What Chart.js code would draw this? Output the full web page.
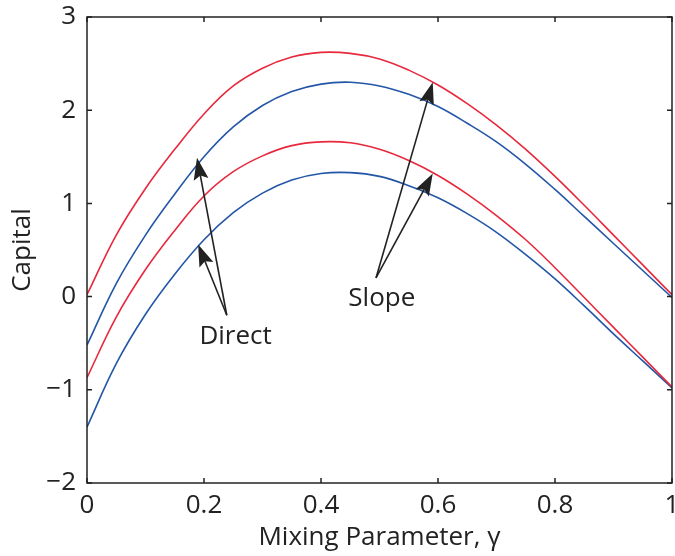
<!DOCTYPE html>
<html><head><meta charset="utf-8">
<script src="https://cdn.jsdelivr.net/npm/chart.js@4/dist/chart.umd.min.js"></script>
<style>html,body{margin:0;padding:0;background:#fff}#wrap{width:675px;height:556px;position:relative}</style>
</head><body><div id="wrap"><canvas id="c" width="675" height="556"></canvas></div>
<script>
// Mixing parameter gamma
const gamma = [0,0.05,0.10,0.15,0.20,0.25,0.30,0.35,0.40,0.45,0.50,0.55,0.60,0.65,0.70,0.75,0.80,0.85,0.90,0.95,1.00];
// Capital
const redUpper  = [0.02,0.66,1.16,1.58,1.96,2.26,2.45,2.57,2.62,2.61,2.55,2.43,2.27,2.07,1.84,1.58,1.29,0.98,0.66,0.34,0.02];
const blueUpper = [-0.52,0.14,0.66,1.10,1.50,1.82,2.05,2.20,2.28,2.30,2.26,2.17,2.04,1.86,1.66,1.42,1.15,0.86,0.57,0.28,-0.01];
const redLower  = [-0.87,-0.22,0.29,0.71,1.08,1.34,1.51,1.62,1.66,1.65,1.58,1.46,1.30,1.10,0.87,0.61,0.31,-0.01,-0.33,-0.65,-0.97];
const blueLower = [-1.40,-0.72,-0.19,0.24,0.61,0.90,1.11,1.25,1.32,1.33,1.29,1.19,1.06,0.89,0.69,0.45,0.19,-0.10,-0.40,-0.69,-0.98];
const xTicks = [0,0.2,0.4,0.6,0.8,1];
const yTicks = [-2,-1,0,1,2,3];
const xLabels = ['0','0.2','0.4','0.6','0.8','1'];
const yLabels = ['\u22122','\u22121','0','1','2','3'];

const FONT = '"Open Sans", Lato, sans-serif';
const FS = 26;
const INK = '#222222';
const RED = '#e8283c';
const BLUE = '#2356a6';

// annotation text (baseline) + arrows (data coordinates)
const annotations = [
  {label:'Direct', tx:0.254, ty:-0.51, tail:[0.239,-0.20], tips:[[0.188,1.49],[0.190,0.56]]},
  {label:'Slope',  tx:0.504, ty:-0.105, tail:[0.494,0.20], tips:[[0.591,2.30],[0.591,1.32]]}
];

const mk = (arr) => gamma.map((g,i)=>({x:g,y:arr[i]}));
const series = [
  {name:'red upper', data:redUpper, color:RED},
  {name:'blue upper', data:blueUpper, color:BLUE},
  {name:'red lower', data:redLower, color:RED},
  {name:'blue lower', data:blueLower, color:BLUE}
];

const framePlugin = {
  id:'frame',
  afterDatasetsDraw(chart){
    const {ctx, chartArea:a, scales:{x, y}} = chart;
    ctx.save();
    ctx.strokeStyle = INK; ctx.lineWidth = 1.5;
    ctx.strokeRect(a.left, a.top, a.right-a.left, a.bottom-a.top);
    const tl = 5;
    ctx.beginPath();
    xTicks.forEach(v=>{const p=x.getPixelForValue(v);
      ctx.moveTo(p,a.bottom);ctx.lineTo(p,a.bottom-tl);
      ctx.moveTo(p,a.top);ctx.lineTo(p,a.top+tl);});
    yTicks.forEach(v=>{const p=y.getPixelForValue(v);
      ctx.moveTo(a.left,p);ctx.lineTo(a.left+tl,p);
      ctx.moveTo(a.right,p);ctx.lineTo(a.right-tl,p);});
    ctx.stroke();
    // arrows
    ctx.fillStyle = INK; ctx.lineWidth = 1.6;
    annotations.forEach(an=>{
      const tx = x.getPixelForValue(an.tail[0]), ty = y.getPixelForValue(an.tail[1]);
      an.tips.forEach(tp=>{
        const hx = x.getPixelForValue(tp[0]), hy = y.getPixelForValue(tp[1]);
        const dx = hx-tx, dy = hy-ty, len = Math.hypot(dx,dy);
        const ux = dx/len, uy = dy/len, nx = -uy, ny = ux;
        const L = 22, W = 7.5;
        ctx.beginPath(); ctx.moveTo(tx,ty); ctx.lineTo(hx-ux*L*0.8, hy-uy*L*0.8); ctx.stroke();
        ctx.beginPath();
        ctx.moveTo(hx,hy);
        ctx.lineTo(hx-ux*L+nx*W, hy-uy*L+ny*W);
        ctx.lineTo(hx-ux*L*0.82, hy-uy*L*0.82);
        ctx.lineTo(hx-ux*L-nx*W, hy-uy*L-ny*W);
        ctx.closePath(); ctx.fill();
      });
      ctx.font = FS + 'px ' + FONT;
      ctx.textAlign = 'center'; ctx.textBaseline = 'alphabetic';
      ctx.fillText(an.label, x.getPixelForValue(an.tx), y.getPixelForValue(an.ty));
    });
    ctx.restore();
  }
};

new Chart(document.getElementById('c'), {
  type:'line',
  data:{datasets: series.map(s=>({label:s.name, data:mk(s.data), borderColor:s.color, borderWidth:1.6,
    pointRadius:0, fill:false, tension:0.4}))},
  options:{
    responsive:false, animation:false, devicePixelRatio:1,
    layout:{padding:{top:17,right:3,left:0,bottom:0}},
    plugins:{legend:{display:false}, tooltip:{enabled:false}},
    scales:{
      x:{type:'linear', min:0, max:1,
        afterBuildTicks: s=>{s.ticks = xTicks.map(v=>({value:v}));},
        afterFit: s=>{s.height = 73; s.paddingLeft = 0; s.paddingRight = 0;},
        grid:{display:false, drawTicks:false}, border:{display:false},
        ticks:{font:{family:FONT,size:FS}, color:INK, padding:7, maxRotation:0, autoSkip:false,
          callback:(v)=>{const i=xTicks.findIndex(t=>Math.abs(t-v)<1e-9);return i>=0?xLabels[i]:'';}},
        title:{display:true, text:'Mixing Parameter, \u03b3', font:{family:FONT,size:FS}, color:INK, padding:{top:0,bottom:3}}
      },
      y:{type:'linear', min:-2, max:3,
        afterBuildTicks: s=>{s.ticks = yTicks.map(v=>({value:v}));},
        afterFit: s=>{s.width = 87; s.paddingTop = 0; s.paddingBottom = 0;},
        grid:{display:false, drawTicks:false}, border:{display:false},
        ticks:{font:{family:FONT,size:FS}, color:INK, padding:11, autoSkip:false,
          callback:(v)=>{const i=yTicks.findIndex(t=>Math.abs(t-v)<1e-9);return i>=0?yLabels[i]:'';}},
        title:{display:true, text:'Capital', font:{family:FONT,size:FS}, color:INK, padding:{top:7,bottom:0}}
      }
    }
  },
  plugins:[framePlugin]
});
</script></body></html>
